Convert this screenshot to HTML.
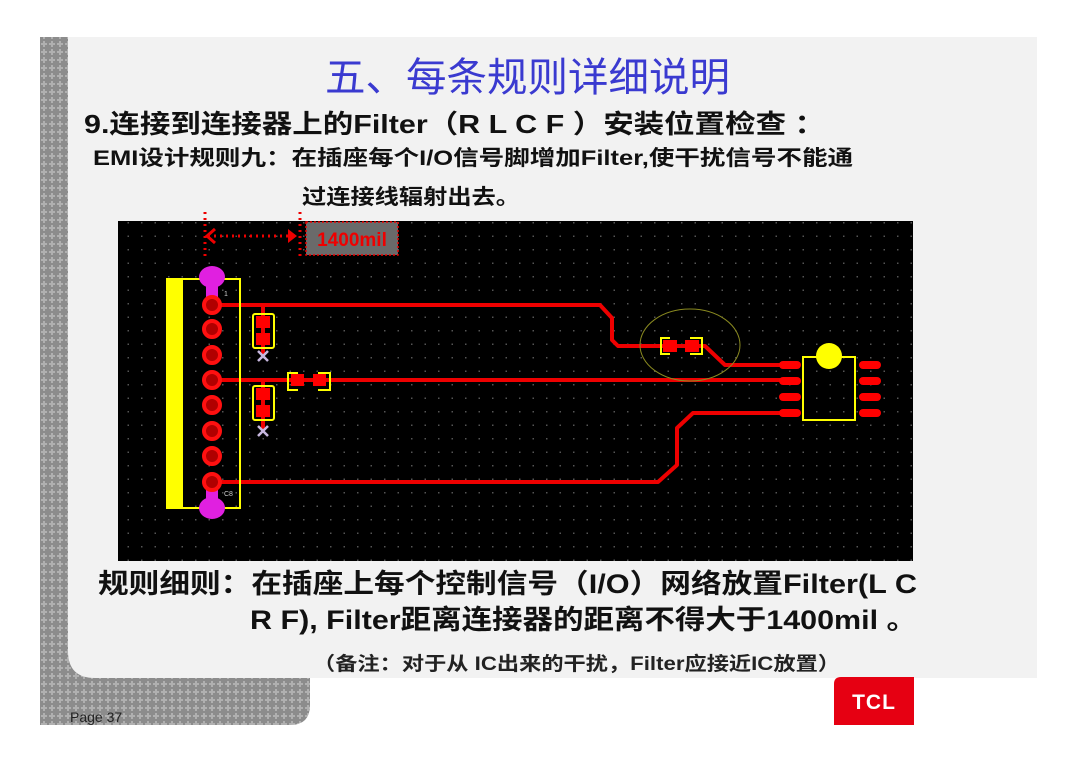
<!DOCTYPE html>
<html><head><meta charset="utf-8"><style>
html,body{margin:0;padding:0;background:#fff;}
svg{display:block;}
text{font-family:"Liberation Sans","Noto Sans CJK SC",sans-serif;}
</style></head><body>
<svg width="1080" height="763" viewBox="0 0 1080 763" xmlns="http://www.w3.org/2000/svg">
<defs>
<pattern id="dots" width="8" height="8" patternUnits="userSpaceOnUse">
<rect width="8" height="8" fill="#8c8c8c"/><rect x="3" y="1" width="2" height="6" fill="#b0b0b0"/><rect x="1" y="3" width="6" height="2" fill="#b0b0b0"/>
</pattern>
<pattern id="grid" width="13.5" height="13.5" patternUnits="userSpaceOnUse">
<rect width="13.5" height="13.5" fill="#000"/><rect x="6" y="6" width="1.5" height="1.5" fill="#555"/>
</pattern>
</defs>
<rect width="1080" height="763" fill="#fff"/>
<path d="M40 37 H310 V705 Q310 725 290 725 H40 Z" fill="url(#dots)"/>
<path d="M68 37 H1037 V678 H95 Q68 678 68 651 Z" fill="#f2f2f2"/>
<text x="325" y="91" font-size="40" fill="#3a3ad0" textLength="405" lengthAdjust="spacingAndGlyphs">五、每条规则详细说明</text>
<text x="84" y="133" font-size="26" font-weight="bold" fill="#111" textLength="741" lengthAdjust="spacingAndGlyphs">9.连接到连接器上的Filter（R L C F ）安装位置检查 ：</text>
<text x="93" y="165" font-size="21" font-weight="bold" fill="#111" textLength="760" lengthAdjust="spacingAndGlyphs">EMI设计规则九：在插座每个I/O信号脚增加Filter,使干扰信号不能通</text>
<text x="302" y="204" font-size="21" font-weight="bold" fill="#111" textLength="218" lengthAdjust="spacingAndGlyphs">过连接线辐射出去。</text>
<rect x="118" y="221" width="795" height="340" fill="url(#grid)"/>
<g stroke="#e00" stroke-width="3" stroke-dasharray="2 4" fill="none">
<line x1="205" y1="212" x2="205" y2="258"/><line x1="300" y1="212" x2="300" y2="258"/>
<line x1="208" y1="236" x2="296" y2="236"/>
</g>
<path d="M215 229 L207 236 L215 243" stroke="#e00" stroke-width="3" fill="none"/>
<path d="M288 229 L297 236 L288 243 Z" fill="#e00"/>
<rect x="306" y="222" width="92" height="33" fill="#6a6a6a" stroke="#e00" stroke-width="1.5" stroke-dasharray="2 2"/>
<text x="352" y="246" text-anchor="middle" font-size="19" font-weight="bold" fill="#e00">1400mil</text>
<g stroke="#e00" stroke-width="4" fill="none" stroke-linejoin="round">
<path d="M212 305 H600 L612 318 V340 L618 346 H705 L725 365 H790"/>
<path d="M212 380 H790"/>
<path d="M212 482 H658 L677 465 V428 L693 413 H790"/>
<path d="M263 305 V356"/><path d="M263 380 V431"/>
</g>
<rect x="167" y="279" width="16" height="228" fill="#ff0"/>
<rect x="167" y="279" width="73" height="229" fill="none" stroke="#ff0" stroke-width="2"/>
<ellipse cx="212" cy="277" rx="13" ry="11" fill="#e020e0"/><rect x="206" y="280" width="12" height="20" fill="#e020e0"/>
<ellipse cx="212" cy="508" rx="13" ry="11" fill="#e020e0"/><rect x="206" y="488" width="12" height="20" fill="#e020e0"/>
<g fill="#b00000" stroke="#ff1010" stroke-width="4">
<circle cx="212" cy="305" r="8"/><circle cx="212" cy="329" r="8"/><circle cx="212" cy="355" r="8"/><circle cx="212" cy="380" r="8"/>
<circle cx="212" cy="405" r="8"/><circle cx="212" cy="431" r="8"/><circle cx="212" cy="456" r="8"/><circle cx="212" cy="482" r="8"/>
</g>
<text x="224" y="296" font-size="7" fill="#ccc">1</text>
<text x="224" y="496" font-size="7" fill="#ccc">C8</text>
<g fill="none" stroke="#ff0" stroke-width="2">
<rect x="253" y="314" width="21" height="34" rx="2"/><rect x="253" y="386" width="21" height="34" rx="2"/>
<path d="M298 373 H288 V390 H298 M318 373 H330 V390 H318"/>
<path d="M670 338 H661 V354 H670 M690 338 H702 V354 H690"/>
<rect x="803" y="357" width="52" height="63"/>
</g>
<g fill="#f00">
<rect x="256" y="316" width="14" height="12"/><rect x="256" y="333" width="14" height="12"/>
<rect x="256" y="388" width="14" height="12"/><rect x="256" y="405" width="14" height="12"/>
<rect x="291" y="374" width="13" height="12"/><rect x="313" y="374" width="13" height="12"/>
<rect x="663" y="340" width="14" height="12"/><rect x="685" y="340" width="14" height="12"/>
<rect x="779" y="361" width="22" height="8" rx="4"/><rect x="779" y="377" width="22" height="8" rx="4"/><rect x="779" y="393" width="22" height="8" rx="4"/><rect x="779" y="409" width="22" height="8" rx="4"/>
<rect x="859" y="361" width="22" height="8" rx="4"/><rect x="859" y="377" width="22" height="8" rx="4"/><rect x="859" y="393" width="22" height="8" rx="4"/><rect x="859" y="409" width="22" height="8" rx="4"/>
</g>
<g stroke="#c8b8e0" stroke-width="2.5"><path d="M258 351 L268 361 M268 351 L258 361"/><path d="M258 426 L268 436 M268 426 L258 436"/></g>
<ellipse cx="690" cy="345" rx="50" ry="36" fill="none" stroke="#8a8a20" stroke-width="1"/>
<circle cx="829" cy="356" r="13" fill="#ff0"/>
<text x="98" y="593" font-size="27" font-weight="bold" fill="#111" textLength="819" lengthAdjust="spacingAndGlyphs">规则细则：在插座上每个控制信号（I/O）网络放置Filter(L C</text>
<text x="250" y="629" font-size="27" font-weight="bold" fill="#111" textLength="667" lengthAdjust="spacingAndGlyphs">R F), Filter距离连接器的距离不得大于1400mil 。</text>
<text x="313" y="670" font-size="19" font-weight="bold" fill="#222" textLength="527" lengthAdjust="spacingAndGlyphs">（备注：对于从 IC出来的干扰，Filter应接近IC放置）</text>
<path d="M841 677 H914 V725 H834 V684 Q834 677 841 677 Z" fill="#e60012"/>
<text x="874" y="709" text-anchor="middle" font-size="21" font-weight="bold" fill="#fff" letter-spacing="1">TCL</text>
<text x="70" y="722" font-size="14" fill="#222">Page 37</text>
</svg>
</body></html>
